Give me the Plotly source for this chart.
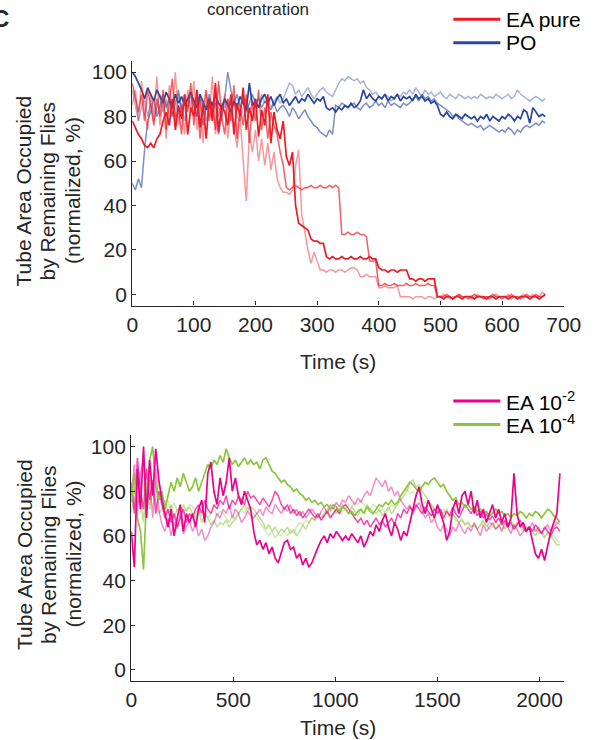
import plotly.graph_objects as go

W, H = 599, 740
def px(x): return x / W
def py(y): return 1 - y / H

# ---------------- data: top panel (EA pure vs PO), time in s ----------------
time_top = list(range(0, 671, 5))

ea_pure_dark = [
    78, 75, 72, 70, 67, 66, 68, 66, 70, 72,
    78, 82, 76, 88, 74, 85, 79, 90, 72, 84,
    80, 92, 75, 86, 70, 88, 78, 95, 73, 85,
    82, 76, 90, 72, 86, 80, 93, 74, 84, 78,
    88, 71, 83, 76, 90, 68, 82, 74, 70, 78,
    62, 58, 64, 40, 32, 31, 30, 29, 25, 24,
    24, 23, 23, 17, 16, 17, 16, 16, 17, 16,
    16, 17, 16, 16, 17, 16, 16, 17, 16, 16,
    12, 11, 11, 10, 11, 11, 10, 11, 11, 11,
    7, 7, 6, 7, 7, 6, 7, 7, 7, -1,
    -1, -2, -1, -1, -2, -1, -1, -2, -1, -1,
    -1, -2, -1, -1, -1, -2, -1, -1, -2, -1,
    -1, -1, -2, -1, -1, -2, -1, -1, -1, -2,
    -1, -1, -2, -1, 0]

ea_pure_mid = [
    95, 88, 82, 90, 78, 92, 85, 76, 88, 80,
    92, 74, 86, 97, 78, 84, 72, 90, 82, 95,
    76, 88, 70, 84, 92, 78, 86, 74, 96, 80,
    72, 88, 78, 94, 70, 84, 76, 90, 68, 86,
    78, 92, 74, 84, 70, 82, 76, 72, 64, 58,
    48, 47, 48, 49, 48, 47, 48, 48, 49, 48,
    48, 49, 48, 48, 49, 48, 49, 48, 27, 27,
    28, 27, 27, 28, 27, 27, 26, 15, 15, 15,
    4, 4, 5, 4, 4, 5, 4, 4, 4, 5,
    4, 4, 5, 4, 4, 4, 5, 4, 4, -1,
    -1, -1, 0, -1, -2, -1, 0, -1, -1, -2,
    -1, 0, -1, -1, -2, -1, -1, 0, -1, -1,
    -2, -1, -1, 0, -1, -1, -2, -1, 0, -1,
    -1, 0, -1, -1, 0]

ea_pure_light = [
    85, 92, 78, 96, 82, 74, 90, 80, 98, 76,
    88, 70, 94, 80, 100, 76, 86, 72, 92, 84,
    96, 74, 88, 68, 90, 80, 98, 72, 86, 78,
    90, 70, 84, 76, 66, 80, 60, 42, 72, 64,
    74, 60, 70, 58, 68, 56, 64, 52, 48, 46,
    46, 45, 47, 58, 65, 36, 28, 20, 14, 19,
    15, 11, 11, 10, 11, 11, 10, 11, 11, 10,
    11, 12, 12, 11, 8, 8, 9, 8, 8, 8,
    3, 3, 4, 3, 3, 3, 4, -1, -1, -1,
    -1, -2, -1, -1, -1, -2, -1, -1, -2, -1,
    -1, 0, -1, -2, -1, -1, 0, -1, -1, -1,
    -2, -1, 0, -1, -1, -1, -2, -1, 0, -1,
    -1, -1, 0, -2, -1, -1, -1, 0, -1, -1,
    0, -1, -1, 1, 0]

po_dark = [
    100, 98, 95, 92, 88, 93, 90, 87, 92, 89,
    86, 91, 88, 84, 90, 86, 89, 85, 88, 91,
    87, 84, 90, 86, 83, 88, 85, 90, 86, 84,
    88, 85, 82, 87, 84, 89, 86, 83, 95, 85,
    87, 84, 88, 90, 86, 89, 85, 88, 90, 86,
    88, 85, 87, 89, 86, 88, 87, 90, 88, 86,
    88, 87, 89, 84, 83, 84, 82, 84, 83, 85,
    84, 86, 84, 85, 87, 92, 88, 90, 88, 87,
    89, 88, 90, 87, 89, 88, 90, 87, 89, 88,
    89, 87, 90, 88, 89, 87, 88, 86, 87, 85,
    81, 80, 82, 80, 79, 81, 80, 79, 81, 80,
    79, 80, 78, 80, 79, 81, 78, 80, 79, 78,
    80, 79, 81, 80, 78, 80, 79, 83, 82, 77,
    84, 82, 80, 81, 80]

po_mid = [
    50, 47, 52, 48, 65, 78, 82, 88, 80, 85,
    90, 84, 88, 80, 86, 92, 82, 87, 84, 90,
    85, 80, 88, 76, 84, 90, 82, 86, 72, 80,
    88, 100, 92, 86, 90, 84, 88, 82, 86, 90,
    86, 88, 84, 87, 85, 83, 86, 82, 84, 85,
    83, 80, 84, 82, 79, 81, 83, 80, 78, 76,
    75, 73, 72, 71, 74, 72, 85, 84, 86, 85,
    84, 85, 86, 84, 83, 85, 86, 84, 85, 87,
    85, 86, 84, 87, 85, 86, 85, 84, 86, 85,
    86, 88, 89, 87, 90, 88, 89, 87, 88, 86,
    85, 84, 83, 82, 80, 81, 79, 78, 77, 76,
    77, 76, 75, 76, 74, 75, 76, 75, 74, 73,
    74, 73, 75, 74, 72, 74, 73, 75, 76, 75,
    76, 77, 76, 78, 77]

po_light = [
    92, 85, 78, 84, 88, 80, 86, 78, 84, 90,
    82, 88, 76, 86, 80, 90, 84, 78, 88, 82,
    86, 80, 90, 84, 78, 86, 82, 88, 80, 86,
    84, 88, 82, 86, 80, 78, 84, 88, 82, 86,
    88, 84, 90, 86, 88, 84, 87, 89, 86, 88,
    92, 95, 94, 90, 92, 89, 91, 93, 90, 88,
    90, 92, 93, 91, 90, 89, 92, 95, 97, 96,
    98, 97, 96, 97, 95, 96, 93, 92, 90, 91,
    89, 88, 90, 89, 87, 88, 90, 89, 91, 90,
    92, 90, 93, 91, 89, 92, 90, 91, 89, 90,
    91, 89, 88, 90, 89, 88, 90, 89, 88, 89,
    88, 89, 88, 90, 89, 88, 89, 88, 90, 89,
    88, 89, 90, 88, 89, 92, 90, 89, 88, 87,
    88, 89, 88, 87, 88]

# ---------------- data: bottom panel (EA 10^-2 vs EA 10^-4) ----------------
time_bot = list(range(0, 2101, 15))

ea_e2_dark = [
    62, 46, 90, 72, 100, 68, 94, 78, 99, 85,
    76, 70, 64, 72, 60, 68, 74, 62, 70, 66,
    70, 64, 72, 76, 66, 88, 93, 80, 74, 86,
    78, 84, 95, 80, 86, 78, 74, 80, 76, 72,
    62, 56, 58, 54, 57, 52, 55, 50, 48, 53,
    57, 58, 54, 55, 50, 52, 47, 50, 46, 48,
    52, 55, 58, 60, 57, 61, 59, 62, 60, 58,
    60, 58, 61, 59, 57, 60, 55, 58, 62, 60,
    65, 62, 67, 70, 64, 60, 66, 63, 58, 62,
    60, 66, 72, 78, 82, 74, 70, 76, 72, 68,
    74, 70, 66, 58, 62, 72, 76, 70, 78, 80,
    74, 80, 70, 76, 68, 72, 66, 70, 74, 68,
    72, 66, 70, 64, 68, 88, 70, 64, 66, 62,
    64, 58, 52, 50, 54, 49, 56, 62, 66, 70,
    88]

ea_e2_light = [
    78, 92, 70, 88, 95, 74, 86, 68, 90, 72,
    65, 62, 68, 60, 66, 63, 70, 61, 64, 67,
    62, 65, 60, 63, 58, 60, 64, 66, 70, 68,
    72, 70, 74, 68, 72, 70, 66, 68, 71, 69,
    68, 70, 72, 69, 73, 71, 70, 74, 72, 70,
    73, 71, 74, 70, 72, 69, 71, 68, 70, 72,
    70, 68, 71, 73, 70, 74, 72, 75, 73, 76,
    75, 78, 76, 74, 77, 75, 78, 80, 78, 82,
    86, 84, 82, 85, 80, 82, 78, 80, 76, 74,
    72, 74, 70, 73, 75, 71, 68, 70, 66, 68,
    64, 62, 65, 63, 60, 64, 62, 66, 63, 61,
    64, 62, 66, 63, 60, 65, 62, 64, 66, 63,
    65, 62, 66, 64, 61, 65, 63, 60, 62, 64,
    63, 66, 62, 64, 61, 63, 65, 62, 64, 66,
    65]

ea_e2_mid = [
    84, 70, 95, 80, 72, 90, 76, 85, 70, 80,
    74, 68, 72, 66, 70, 64, 68, 72, 66, 70,
    68, 72, 74, 70, 76, 72, 70, 74, 72, 76,
    74, 78, 72, 76, 74, 78, 76, 74, 80, 77,
    78, 76, 74, 77, 75, 73, 76, 80, 78, 74,
    72, 74, 70, 72, 69, 71, 68, 70, 72, 70,
    68, 70, 67, 69, 71, 68, 70, 72, 70, 73,
    74, 72, 70, 68, 66, 68, 65, 67, 64, 66,
    68, 65, 67, 64, 66, 68, 65, 70, 68, 72,
    70, 73, 71, 74, 72, 70, 73, 71, 69, 72,
    70, 72, 68, 71, 69, 73, 70, 68, 71, 74,
    72, 70, 73, 69, 71, 68, 70, 67, 69, 66,
    68, 65, 67, 64, 66, 63, 65, 67, 64, 62,
    64, 62, 65, 63, 61, 64, 62, 60, 63, 64,
    62]

ea_e4_dark = [
    75, 88, 68, 62, 45, 78, 94, 100, 82, 76,
    80, 72, 78, 84, 80, 86, 82, 88, 84, 80,
    82, 86, 80, 84, 88, 92, 90, 94, 92, 96,
    93, 99, 95, 92, 94, 91, 93, 95, 92, 94,
    92, 93, 90, 94, 95, 92, 89, 88, 86, 84,
    85, 83, 82, 80, 81, 79, 78, 76, 77, 75,
    76, 74, 75, 73, 74, 72, 74, 73, 71, 73,
    72, 70, 71, 69, 71, 72, 70, 73, 71, 70,
    72, 74, 73, 75, 74, 76, 74, 75, 78, 80,
    82, 84, 83, 81, 80, 82, 84, 83, 85, 86,
    84, 82, 83, 80, 78, 76, 77, 74, 75, 73,
    74, 72, 73, 71, 72, 70, 71, 69, 70, 72,
    70, 71, 69, 70, 68, 70, 69, 71, 70, 68,
    70, 69, 71, 70, 68, 70, 72, 71, 69, 68,
    66]

ea_e4_light = [
    70, 82, 74, 78, 66, 84, 72, 80, 75, 70,
    72, 76, 70, 74, 68, 72, 70, 74, 71, 73,
    70, 68, 72, 66, 70, 68, 65, 67, 64, 66,
    65, 67, 64, 66, 68, 70, 72, 74, 71, 73,
    72, 70, 68, 66, 63, 65, 62, 64, 61, 63,
    62, 64, 61, 63, 60, 62, 65, 63, 66, 68,
    67, 69, 68, 70, 72, 71, 73, 70, 72, 74,
    72, 70, 73, 71, 69, 72, 70, 74, 72, 71,
    70, 72, 69, 71, 73, 70, 72, 74, 76, 78,
    80, 84, 85, 82, 83, 80, 78, 76, 74, 72,
    73, 71, 70, 72, 69, 70, 68, 66, 67, 65,
    66, 64, 65, 63, 65, 67, 64, 66, 65, 63,
    64, 66, 63, 65, 67, 64, 66, 65, 63, 62,
    64, 62, 60, 63, 61, 59, 62, 60, 58, 56,
    56]

ea_e4_pale = [
    80, 72, 86, 70, 78, 90, 74, 82, 76, 84,
    78, 74, 76, 72, 75, 71, 74, 70, 72, 74,
    73, 70, 72, 69, 71, 68, 70, 72, 69, 71,
    70, 68, 66, 69, 67, 70, 72, 70, 73, 71,
    70, 68, 66, 64, 62, 60, 62, 59, 61, 60,
    62, 60, 63, 61, 64, 66, 65, 67, 66, 68,
    67, 69, 70, 68, 71, 69, 70, 72, 70, 71,
    72, 74, 73, 75, 74, 76, 74, 73, 72, 74,
    73, 71, 72, 70, 72, 74, 73, 75, 78, 80,
    81, 79, 80, 78, 76, 77, 75, 73, 74, 72,
    71, 70, 72, 69, 68, 70, 67, 66, 68, 65,
    66, 64, 65, 63, 64, 66, 65, 63, 64, 66,
    65, 63, 64, 66, 64, 63, 65, 64, 62, 63,
    64, 62, 63, 61, 62, 60, 61, 59, 60, 58,
    57]

y_ticks = [0, 20, 40, 60, 80, 100]
x_ticks_top = [0, 100, 200, 300, 400, 500, 600, 700]
x_ticks_bot = [0, 500, 1000, 1500, 2000]

RED, BLUE, PINK, GREEN = "#ED1C24", "#2B47A0", "#EC008C", "#8CC63F"
TXT = "#262626"
FONT = "Liberation Sans, Arial, sans-serif"

fig = go.Figure()

def add(x, y, color, opacity, width, xa, ya):
    fig.add_trace(go.Scatter(x=x, y=y, mode="lines",
                             line=dict(color=color, width=width),
                             opacity=opacity, showlegend=False,
                             hoverinfo="skip", xaxis=xa, yaxis=ya))

# top panel: blue below, red on top
add(time_top, po_light, BLUE, 0.4, 1.5, "x", "y")
add(time_top, po_mid, BLUE, 0.6, 1.5, "x", "y")
add(time_top, po_dark, BLUE, 1.0, 1.7, "x", "y")
add(time_top, ea_pure_light, RED, 0.45, 1.5, "x", "y")
add(time_top, ea_pure_mid, RED, 0.7, 1.5, "x", "y")
add(time_top, ea_pure_dark, RED, 1.0, 1.7, "x", "y")

# bottom panel
add(time_bot, ea_e4_pale, GREEN, 0.35, 1.5, "x2", "y2")
add(time_bot, ea_e4_light, GREEN, 0.55, 1.5, "x2", "y2")
add(time_bot, ea_e2_light, PINK, 0.45, 1.5, "x2", "y2")
add(time_bot, ea_e2_mid, PINK, 0.7, 1.5, "x2", "y2")
add(time_bot, ea_e4_dark, GREEN, 1.0, 1.7, "x2", "y2")
add(time_bot, ea_e2_dark, PINK, 1.0, 1.7, "x2", "y2")

axis_common = dict(showline=True, linecolor=TXT, linewidth=1.3, ticks="inside",
                   ticklen=4, tickwidth=1, tickcolor=TXT, showgrid=False,
                   zeroline=False, fixedrange=True,
                   tickfont=dict(family=FONT, size=21, color=TXT))

fig.update_layout(
    width=W, height=H, margin=dict(l=0, r=0, t=0, b=0),
    paper_bgcolor="white", plot_bgcolor="white",
    xaxis=dict(domain=[px(131.5), px(581)], range=[0, 700], tickvals=x_ticks_top,
               anchor="y", **axis_common),
    yaxis=dict(domain=[py(305), py(60)], range=[-5, 105], tickvals=y_ticks,
               anchor="x", **axis_common),
    xaxis2=dict(domain=[px(130.5), px(581.5)], range=[0, 2121], tickvals=x_ticks_bot,
                anchor="y2", **axis_common),
    yaxis2=dict(domain=[py(681), py(435)], range=[-5, 105], tickvals=y_ticks,
                anchor="x2", **axis_common),
)

ann = []
def text(x, y, s, size=21, xanchor="center", angle=0, color=TXT, bold=False):
    ann.append(dict(x=px(x), y=py(y), xref="paper", yref="paper", text=s,
                    showarrow=False, xanchor=xanchor, yanchor="middle",
                    textangle=angle,
                    font=dict(family=FONT, size=size, color=color,
                              weight="bold" if bold else "normal")))

# panel letter (cut by the left edge, as in the source) and header
text(5, 18, "C", size=24, xanchor="right", bold=True)
text(262, 9, "concentration", size=17)

# y titles
ytitle = ["Tube Area Occupied", "by Remaining Flies", "(normalized, %)"]
for xc, line in zip([18.5, 43.5, 70], ytitle):
    text(xc, 190, line, angle=-90)
    text(xc, 554, line, angle=-90)

# x titles
text(346, 361, "Time (s)")
text(346, 727, "Time (s)")

# legends
shapes = []
def leg(y, color, label):
    shapes.append(dict(type="line", xref="paper", yref="paper",
                       x0=px(466), x1=px(515), y0=py(y), y1=py(y),
                       line=dict(color=color, width=3)))
    text(519, y, label, xanchor="left", color="black")

leg(18.3, RED, "EA pure")
leg(41.7, BLUE, "PO")
leg(400.6, PINK, "EA 10<sup>-2</sup>")
leg(424, GREEN, "EA 10<sup>-4</sup>")

fig.update_layout(annotations=ann, shapes=shapes)

fig.write_html(
    "out.html",
    config={"responsive": False, "displayModeBar": False},
    default_width=f"{W}px", default_height=f"{H}px",
    post_script=("document.documentElement.style.margin='0';"
                 "document.documentElement.style.overflow='hidden';"
                 "document.body.style.margin='0';"
                 "document.body.style.overflow='hidden';"),
)
